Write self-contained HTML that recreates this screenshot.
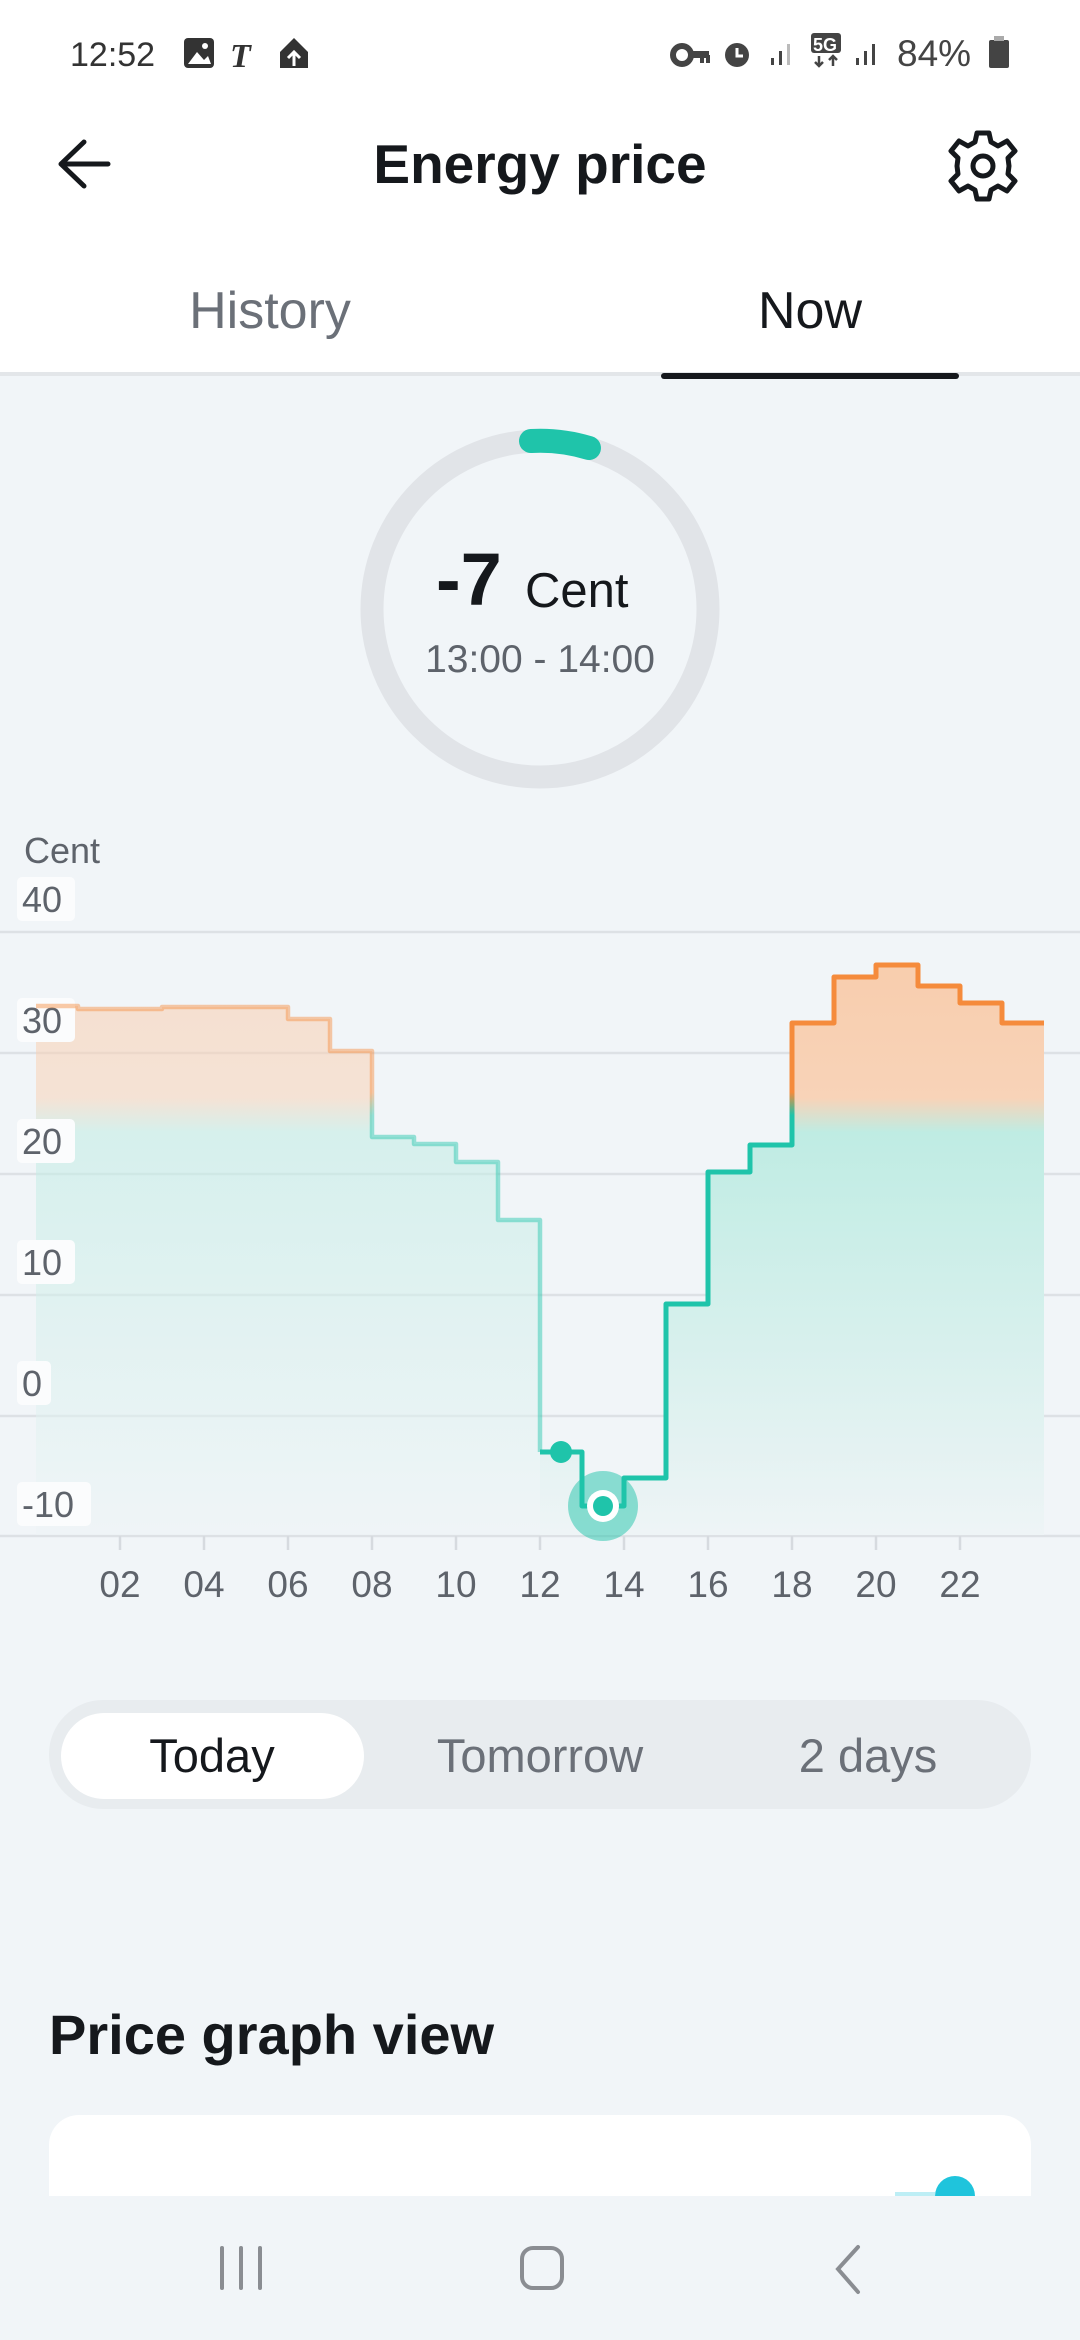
<!DOCTYPE html>
<html><head><meta charset="utf-8">
<style>
*{margin:0;padding:0;box-sizing:border-box}
body{width:1080px;height:2340px;background:#f1f5f8;font-family:"Liberation Sans",sans-serif;position:relative;overflow:hidden;color:#15181c}
.abs{position:absolute}
#hdr{left:0;top:0;width:1080px;height:376px;background:#fff;border-bottom:4px solid #e3e6e9}
</style></head><body>
<div id="hdr" class="abs"></div>
<svg class="abs" style="left:0;top:0" width="1080" height="2340" viewBox="0 0 1080 2340">
<defs>
<linearGradient id="fill" gradientUnits="userSpaceOnUse" x1="0" y1="960" x2="0" y2="1535">
<stop offset="0" stop-color="#f8cdad"/>
<stop offset="0.24" stop-color="#f8d3b8"/>
<stop offset="0.30" stop-color="#bfece3"/>
<stop offset="1" stop-color="#eef4f6"/>
</linearGradient>
<linearGradient id="ln" gradientUnits="userSpaceOnUse" x1="0" y1="960" x2="0" y2="1535">
<stop offset="0.23" stop-color="#f58b3c"/>
<stop offset="0.27" stop-color="#1fc4aa"/>
</linearGradient>
</defs>
<!-- status bar -->
<text x="70" y="66" font-size="34" fill="#333">12:52</text>
<rect x="184" y="38" width="30" height="30" rx="4" fill="#333"/><path d="M188 64 L197 52 L204 60 L208 56 L211 64Z" fill="#fff"/><circle cx="205" cy="46" r="3" fill="#fff"/>
<text x="230" y="67" font-size="34" font-weight="bold" font-style="italic" fill="#333" font-family="Liberation Serif">T</text>
<path d="M280 68 V52 L294 38 L308 52 V68Z" fill="#333"/><path d="M294 66 V52 M288 58 L294 52 L300 58" stroke="#fff" stroke-width="3" fill="none"/>
<g fill="#444">
<circle cx="682" cy="55" r="9" fill="none" stroke="#444" stroke-width="6"/><rect x="690" y="51" width="19" height="7"/><rect x="700" y="55" width="4" height="8"/><rect x="706" y="55" width="4" height="8"/>
<circle cx="737" cy="55" r="12"/><path d="M737 48 V56 H743" stroke="#fff" stroke-width="3" fill="none"/>
<rect x="771" y="58" width="3" height="7"/><rect x="779" y="51" width="3" height="14"/><rect x="787" y="44" width="3" height="21" fill="#bbb"/>
<rect x="811" y="33" width="30" height="20" rx="3"/><text x="813" y="51" font-size="18" font-weight="bold" fill="#fff">5G</text>
<path d="M819 56 V66 M815 62 L819 66 L823 62 M833 66 V56 M829 60 L833 56 L837 60" stroke="#444" stroke-width="2.5" fill="none"/>
<rect x="856" y="58" width="3" height="7"/><rect x="864" y="51" width="3" height="14"/><rect x="872" y="44" width="3" height="21"/>
<text x="897" y="66" font-size="37" fill="#444">84%</text>
<rect x="989" y="40" width="20" height="28" rx="2"/><rect x="994" y="36" width="10" height="5" fill="#aaa"/>
</g>
<!-- header -->
<path d="M108 164 H62 M84 142 L61 164 L84 186" stroke="#15181c" stroke-width="5" fill="none" stroke-linecap="round" stroke-linejoin="round"/>
<text x="540" y="183" font-size="55" font-weight="bold" text-anchor="middle" fill="#15181c">Energy price</text>
<g transform="translate(983,166)" fill="none" stroke="#15181c" stroke-width="5">
<path d="M-6 -33 H6 L8 -24 L15 -20 L24 -25 L32 -15 L25 -8 L26 0 L25 8 L32 15 L24 25 L15 20 L8 24 L6 33 H-6 L-8 24 L-15 20 L-24 25 L-32 15 L-25 8 L-26 0 L-25 -8 L-32 -15 L-24 -25 L-15 -20 L-8 -24Z" stroke-linejoin="round"/>
<circle r="10"/>
</g>
<text x="270" y="328" font-size="52" text-anchor="middle" fill="#6b7078">History</text>
<text x="810" y="328" font-size="52" text-anchor="middle" fill="#15181c">Now</text>
<rect x="661" y="373" width="298" height="6" rx="3" fill="#15181c"/>
<!-- ring -->
<circle cx="540" cy="609" r="168" fill="none" stroke="#e1e4e8" stroke-width="23"/>
<path d="M531 441 A168 168 0 0 1 589 448" fill="none" stroke="#1fc4aa" stroke-width="24" stroke-linecap="round"/>
<text x="436" y="605" font-size="74" font-weight="bold" fill="#15181c">-7</text>
<text x="525" y="607" font-size="49" fill="#15181c">Cent</text>
<text x="540" y="672" font-size="39" text-anchor="middle" fill="#5e636b">13:00 - 14:00</text>
<!-- chart -->
<text x="24" y="863" font-size="36" fill="#5e636b">Cent</text>
<g stroke="#dde1e5" stroke-width="2.5">
<line x1="0" y1="932" x2="1080" y2="932"/><line x1="0" y1="1053" x2="1080" y2="1053"/><line x1="0" y1="1174" x2="1080" y2="1174"/><line x1="0" y1="1295" x2="1080" y2="1295"/><line x1="0" y1="1416" x2="1080" y2="1416"/><line x1="0" y1="1536" x2="1080" y2="1536"/>
</g>
<path d="M36 1006 H78 V1009 H162 V1007 H288 V1019 H330 V1051 H372 V1137 H414 V1144 H456 V1162 H498 V1220 H540 V1535 H36Z" fill="url(#fill)" opacity="0.55"/>
<path d="M540 1452 H582 V1506 H624 V1478 H666 V1304 H708 V1172 H750 V1145 H792 V1023 H834 V977 H876 V965 H918 V986 H960 V1003 H1002 V1023 H1044 V1535 H540Z" fill="url(#fill)"/>
<g fill="#fbfcfd">
<rect x="17" y="877" width="58" height="44" rx="5"/><rect x="17" y="998" width="58" height="44" rx="5"/><rect x="17" y="1119" width="58" height="44" rx="5"/><rect x="17" y="1240" width="58" height="44" rx="5"/><rect x="17" y="1361" width="34" height="44" rx="5"/><rect x="17" y="1482" width="74" height="44" rx="5"/>
</g>
<g font-size="36" fill="#5e636b">
<text x="22" y="912">40</text><text x="22" y="1033">30</text><text x="22" y="1154">20</text><text x="22" y="1275">10</text><text x="22" y="1396">0</text><text x="22" y="1517">-10</text>
</g>
<path d="M36 1006 H78 V1009 H162 V1007 H288 V1019 H330 V1051 H372 V1137 H414 V1144 H456 V1162 H498 V1220 H540 V1452" fill="none" stroke="url(#ln)" stroke-width="4.5" stroke-linejoin="round" opacity="0.45"/>
<path d="M540 1452 H582 V1506 H624 V1478 H666 V1304 H708 V1172 H750 V1145 H792 V1023 H834 V977 H876 V965 H918 V986 H960 V1003 H1002 V1023 H1044" fill="none" stroke="url(#ln)" stroke-width="5" stroke-linejoin="round"/>
<circle cx="561" cy="1452" r="11" fill="#1fc4aa"/>
<circle cx="603" cy="1506" r="35" fill="#1fc4aa" opacity="0.5"/>
<circle cx="603" cy="1506" r="16" fill="#fff"/>
<circle cx="603" cy="1506" r="10" fill="#1fc4aa"/>
<g stroke="#d6dadf" stroke-width="2.5">
<line x1="120" y1="1536" x2="120" y2="1550"/><line x1="204" y1="1536" x2="204" y2="1550"/><line x1="288" y1="1536" x2="288" y2="1550"/><line x1="372" y1="1536" x2="372" y2="1550"/><line x1="456" y1="1536" x2="456" y2="1550"/><line x1="540" y1="1536" x2="540" y2="1550"/><line x1="624" y1="1536" x2="624" y2="1550"/><line x1="708" y1="1536" x2="708" y2="1550"/><line x1="792" y1="1536" x2="792" y2="1550"/><line x1="876" y1="1536" x2="876" y2="1550"/><line x1="960" y1="1536" x2="960" y2="1550"/>
</g>
<g font-size="37" fill="#5e636b" text-anchor="middle">
<text x="120" y="1597">02</text><text x="204" y="1597">04</text><text x="288" y="1597">06</text><text x="372" y="1597">08</text><text x="456" y="1597">10</text><text x="540" y="1597">12</text><text x="624" y="1597">14</text><text x="708" y="1597">16</text><text x="792" y="1597">18</text><text x="876" y="1597">20</text><text x="960" y="1597">22</text>
</g>
<!-- segmented -->
<rect x="49" y="1700" width="982" height="109" rx="54" fill="#e8ecef"/>
<rect x="61" y="1713" width="303" height="86" rx="43" fill="#fff"/>
<text x="212" y="1772" font-size="47" text-anchor="middle" fill="#15181c">Today</text>
<text x="540" y="1772" font-size="47" text-anchor="middle" fill="#6b7078">Tomorrow</text>
<text x="868" y="1772" font-size="47" text-anchor="middle" fill="#6b7078">2 days</text>
<text x="49" y="2054" font-size="56" font-weight="bold" fill="#15181c">Price graph view</text>
<path d="M49 2196 V2145 A30 30 0 0 1 79 2115 H1001 A30 30 0 0 1 1031 2145 V2196Z" fill="#fff"/>
<path d="M935 2196 A20 20 0 0 1 975 2196Z" fill="#1fc4dc"/>
<rect x="895" y="2192" width="40" height="4" fill="#bdeef5"/>
<!-- nav -->
<g stroke="#8a8d92" stroke-width="4" fill="none" stroke-linecap="round">
<line x1="222" y1="2248" x2="222" y2="2288"/><line x1="241" y1="2248" x2="241" y2="2288"/><line x1="260" y1="2248" x2="260" y2="2288"/>
<rect x="522" y="2248" width="40" height="40" rx="11"/>
<path d="M858 2247 L838 2269 L858 2292"/>
</g>
</svg>
</body></html>
